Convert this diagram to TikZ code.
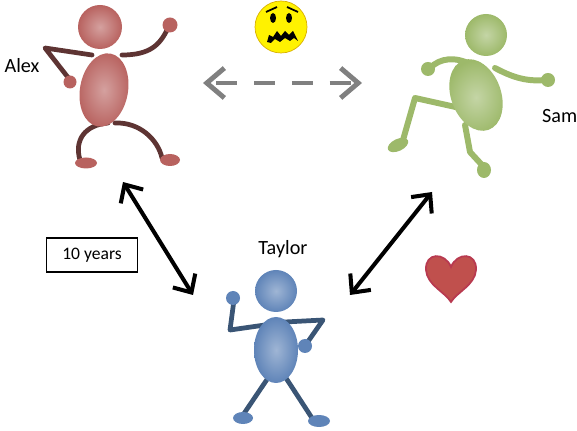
\documentclass[tikz,border=0pt]{standalone}
\usepackage{fontspec}
\setmainfont{Carlito}
\usetikzlibrary{arrows.meta}

\definecolor{alexred}{HTML}{B8625F}
\definecolor{alexdark}{HTML}{5E3433}
\definecolor{samgreen}{HTML}{9DB96A}
\definecolor{taylorblue}{HTML}{5F84B8}
\definecolor{taylordark}{HTML}{3A5575}
\definecolor{heartred}{HTML}{C0504D}
\definecolor{heartedge}{HTML}{B83A50}
\definecolor{smileyrim}{HTML}{D9B000}
\definecolor{arrowgrey}{HTML}{808080}

\tikzset{
  limb/.style={line width=2.7pt, line cap=round, line join=round},
  bodyshade/.style={inner color=#1!60!white, outer color=#1},
  personname/.style={font=\fontsize{11.5}{14}\selectfont},
  bothways/.style={line width=2.3pt, {Straight Barb[length=8pt,width=15pt]}-{Straight Barb[length=8pt,width=15pt]}},
}

\begin{document}
\begin{tikzpicture}[x=0.02cm, y=-0.02cm]
    \useasboundingbox (0,0) rectangle (577,431);

    % Draw Alex
    \draw[limb, alexdark] (92,55) -- (45,48) -- (70,80);
    \draw[limb, alexdark] (122,55) .. controls (150,55) and (160,45) .. (168,28);
    \draw[limb, alexdark] (108,123) .. controls (85,125) and (74,140) .. (80,160);
    \draw[limb, alexdark] (115,123) .. controls (140,122) and (158,140) .. (162,158);
    \fill[alexred] (70,82) circle (6.5);
    \fill[alexred] (170,25) circle (7.5);
    \fill[alexred] (86,163) ellipse (11 and 5.5);
    \fill[alexred] (170,160) ellipse (10 and 6);
    \shade[bodyshade=alexred, rotate around={-10:(104,90)}] (104,90) ellipse (24 and 37);
    \shade[bodyshade=alexred] (100,27) circle (22);
    \node[personname] (alex) at (22,66) {Alex};

    % Draw Sam
    \draw[limb, line width=3.4pt, samgreen] (472,65) .. controls (455,56) and (440,58) .. (430,68);
    \draw[limb, line width=3.4pt, samgreen] (495,68) .. controls (510,76) and (525,82) .. (545,80);
    \draw[limb, line width=3.4pt, samgreen] (460,108) -- (415,98) -- (403,140);
    \draw[limb, line width=3.4pt, samgreen] (465,125) -- (470,152) -- (482,165);
    \fill[samgreen] (428,69) circle (7);
    \fill[samgreen] (548,80) circle (7);
    \fill[samgreen, rotate around={25:(398,145)}] (398,145) ellipse (11 and 6);
    \fill[samgreen] (484,170) ellipse (7 and 8);
    \shade[bodyshade=samgreen, rotate around={20:(476,95)}] (476,95) ellipse (25 and 37);
    \shade[bodyshade=samgreen] (486,35) circle (21);
    \node[personname, anchor=west] (sam) at (536,116) {Sam};

    % Draw Taylor
    \draw[limb, taylordark] (265,325) -- (230,330) -- (234,300);
    \draw[limb, taylordark] (285,322) -- (323,320) -- (307,343);
    \draw[limb, taylordark] (270,375) -- (243,415);
    \draw[limb, taylordark] (284,375) -- (312,418);
    \fill[taylorblue] (233,298) circle (7);
    \fill[taylorblue] (305,346) circle (7);
    \fill[taylorblue] (243,418) ellipse (10 and 6);
    \fill[taylorblue] (319,421) ellipse (11 and 6);
    \shade[bodyshade=taylorblue] (276,350) ellipse (22 and 33);
    \shade[bodyshade=taylorblue] (276,291) circle (21);
    \node[personname] (taylor) at (283,249) {Taylor};

    % Draw the worried face
    \filldraw[fill=yellow, draw=smileyrim, line width=0.4pt] (281,27) circle (26);
    \fill (273,18) ellipse (3 and 5);
    \fill (289,18) ellipse (3 and 5);
    \draw[line width=1pt] (266,12) -- (277,7);
    \draw[line width=1pt] (287,7) -- (298,12);
    \fill (267,42) -- (269,35) -- (273,37) -- (277,31) -- (281,36) -- (285,31) -- (289,35)
        -- (293,31) -- (298,41) -- (294,38) -- (290,41) -- (285,38) -- (280,42) -- (275,39)
        -- (271,43) -- cycle;

    % Draw the heart
    \filldraw[fill=heartred, draw=heartedge, line width=1pt]
        (451,267) .. controls (445,252) and (425,252) .. (426,270)
        .. controls (427,285) and (445,292) .. (451,302)
        .. controls (457,292) and (475,285) .. (476,270)
        .. controls (477,252) and (457,252) .. (451,267) -- cycle;

    % Draw the box
    \node[draw, line width=1.1pt, minimum width=1.82cm, minimum height=0.68cm,
        font=\fontsize{10}{12}\selectfont] (years) at (92,255) {10 years};

    % Draw the arrows
    \coordinate (alexend) at (123,182);
    \coordinate (tayloreast) at (193,295);
    \coordinate (taylorwest) at (350,295);
    \coordinate (samend) at (432,192);
    \coordinate (alexright) at (203,83);
    \coordinate (samleft) at (362,83);
    \draw[bothways] (alexend) -- (tayloreast);
    \draw[bothways] (taylorwest) -- (samend);
    \draw[line width=2.8pt, arrowgrey, dash pattern=on 12pt off 9.5pt, dash phase=-4pt,
        {Straight Barb[length=10pt,width=17pt]}-{Straight Barb[length=10pt,width=17pt]}]
        (alexright) -- (samleft);
\end{tikzpicture}
\end{document}
